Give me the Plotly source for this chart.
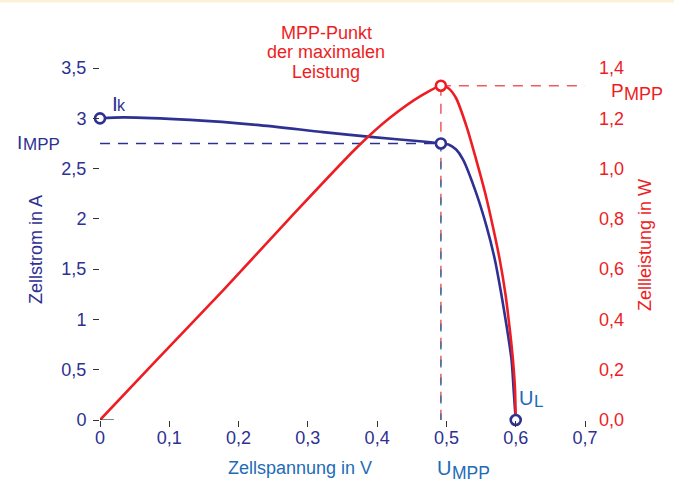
import plotly.graph_objects as go

# ---- data ----
U_current = [0, 0.034, 0.13, 0.226, 0.322, 0.394, 0.466, 0.492, 0.503, 0.514, 0.524, 0.543, 0.558, 0.570, 0.579, 0.587, 0.594, 0.597, 0.6]
I_current = [3.0, 3.01, 2.985, 2.935, 2.863, 2.813, 2.769, 2.75, 2.74, 2.69, 2.59, 2.256, 1.923, 1.592, 1.261, 0.928, 0.597, 0.30, 0.0]

U_power = [0, 0.082, 0.178, 0.274, 0.370, 0.418, 0.466, 0.492, 0.503, 0.514, 0.529, 0.543, 0.556, 0.567, 0.577, 0.585, 0.591, 0.596, 0.599, 0.6]
P_power = [0, 0.239, 0.517, 0.803, 1.082, 1.201, 1.294, 1.33, 1.32, 1.28, 1.168, 1.035, 0.902, 0.770, 0.637, 0.504, 0.371, 0.239, 0.12, 0.0]

I_K = 3.0
U_L = 0.6
U_MPP = 0.492
I_MPP = 2.75
P_MPP = 1.33

x_ticks = [0, 0.1, 0.2, 0.3, 0.4, 0.5, 0.6, 0.7]
x_labels = ["0", "0,1", "0,2", "0,3", "0,4", "0,5", "0,6", "0,7"]
yl_ticks = [0, 0.5, 1, 1.5, 2, 2.5, 3, 3.5]
yl_labels = ["0", "0,5", "1", "1,5", "2", "2,5", "3", "3,5"]
yr_ticks = [0, 0.2, 0.4, 0.6, 0.8, 1.0, 1.2, 1.4]
yr_labels = ["0,0", "0,2", "0,4", "0,6", "0,8", "1,0", "1,2", "1,4"]

NAVY = "#2e3192"
RED = "#ee1d23"
LRED = "#f05a60"
BLUE = "#1e6bb8"
STEEL = "#3f6fa8"
FONT = "Liberation Sans, Arial, sans-serif"
FS = 18

# plot-area geometry (px) used only to place text labels
L, R, T, B = 100, 89, 53, 69
W, H = 674, 489
PW, PH = W - L - R, H - T - B


def px(x):
    return (x - L) / PW


def py(y):
    return (H - B - y) / PH


fig = go.Figure()

# layer y (main): blue dashed horizontal + blue curve
fig.add_trace(go.Scatter(x=[0, U_MPP], y=[I_MPP, I_MPP], mode="lines",
                         line=dict(color=NAVY, width=1.3, dash="10px,8px"), hoverinfo="skip"))
fig.add_trace(go.Scatter(x=U_current, y=I_current, mode="lines",
                         line=dict(color=NAVY, width=2.6, shape="spline", smoothing=0.7)))

# layer y2: red dashed guides, red curve, red marker
fig.add_trace(go.Scatter(x=[U_MPP, 0.7], y=[P_MPP, P_MPP], mode="lines", yaxis="y2",
                         line=dict(color=LRED, width=1.5, dash="10px,8px"), hoverinfo="skip"))
fig.add_trace(go.Scatter(x=[U_MPP, U_MPP], y=[P_MPP, 0], mode="lines", yaxis="y2",
                         line=dict(color=LRED, width=1.5, dash="10px,8px"), hoverinfo="skip"))
fig.add_trace(go.Scatter(x=U_power, y=P_power, mode="lines", yaxis="y2",
                         line=dict(color=RED, width=2.6, shape="spline", smoothing=0.7)))
fig.add_trace(go.Scatter(x=[U_MPP], y=[P_MPP], mode="markers", yaxis="y2", cliponaxis=False,
                         marker=dict(symbol="circle", size=10, color="white",
                                     line=dict(color=RED, width=2.6))))

# layer y3 (same scale as y, on top): steel dashed vertical + blue circles
fig.add_trace(go.Scatter(x=[U_MPP, U_MPP], y=[I_MPP, 0], mode="lines", yaxis="y3",
                         line=dict(color=STEEL, width=1.5, dash="8px,10px"), hoverinfo="skip"))
fig.add_trace(go.Scatter(x=[0, U_MPP, U_L], y=[I_K, I_MPP, 0], mode="markers", yaxis="y3",
                         cliponaxis=False,
                         marker=dict(symbol="circle", size=10, color="white",
                                     line=dict(color=NAVY, width=2.6))))

ann = []


def A(text, x, y, color, size=FS, **kw):
    d = dict(text=text, x=px(x), y=py(y), xref="paper", yref="paper", showarrow=False,
             xanchor="center", yanchor="middle",
             font=dict(family=FONT, size=size, color=color))
    d.update(kw)
    ann.append(d)


A("MPP-Punkt", 326, 33, RED)
A("der maximalen", 326, 52, RED)
A("Leistung", 326, 72, RED)
# I_k
A("I", 114.5, 103.5, NAVY, 21)
A("k", 121, 105.5, NAVY, 16)
# I_MPP
A("I", 19, 142, NAVY, 19)
A("MPP", 41.7, 144.5, NAVY, 17)
# P_MPP
A("P", 617.5, 90, RED, 19)
A("MPP", 643.5, 94.5, RED, 18)
# U_L
A("U", 526, 397.5, BLUE, 20)
A("L", 538, 401, BLUE, 17)
# U_MPP
A("U", 444, 467.5, BLUE, 20)
A("MPP", 471, 472.5, BLUE, 17.5)
# axis titles
A("Zellstrom in A", 36, 250, NAVY, textangle=-90)
A("Zellleistung in W", 645, 245, RED, textangle=-90)
A("Zellspannung in V", 300, 468, BLUE)

fig.update_layout(
    width=W, height=H,
    margin=dict(l=L, r=R, t=T, b=B),
    paper_bgcolor="white", plot_bgcolor="white",
    showlegend=False,
    font=dict(family=FONT, size=FS, color=NAVY),
    xaxis=dict(range=[0, 0.7], tickvals=x_ticks, ticktext=x_labels,
               showgrid=False, zeroline=False, showline=False,
               ticks="outside", ticklen=6, tickwidth=1, tickcolor="#333",
               ticklabelstandoff=-5,
               tickfont=dict(family=FONT, size=FS, color=NAVY)),
    yaxis=dict(range=[0, 3.65], tickvals=yl_ticks, ticktext=yl_labels,
               showgrid=False, zeroline=False, showline=False,
               ticks="outside", ticklen=6, tickwidth=1, tickcolor="#333",
               ticklabelstandoff=3,
               tickfont=dict(family=FONT, size=FS, color=NAVY)),
    yaxis2=dict(range=[0, 1.46], tickvals=yr_ticks, ticktext=yr_labels,
                overlaying="y", side="right",
                showgrid=False, zeroline=False, showline=False,
                ticks="", ticklabelstandoff=13,
                tickfont=dict(family=FONT, size=FS, color=RED)),
    yaxis3=dict(range=[0, 3.65], overlaying="y", visible=False,
                showgrid=False, zeroline=False),
    annotations=ann,
    shapes=[
        dict(type="line", xref="x", yref="y", x0=0, x1=0.02, y0=0, y1=0,
             line=dict(color="#333", width=1.2)),
        dict(type="rect", xref="paper", yref="paper", x0=-0.3, x1=1.3,
             y0=py(2.5), y1=py(-5),
             line=dict(width=0), fillcolor="#fdf0d8"),
    ],
)

fig.write_html("out.html", config={"displayModeBar": False},
               post_script="document.body.style.margin='0px';")
